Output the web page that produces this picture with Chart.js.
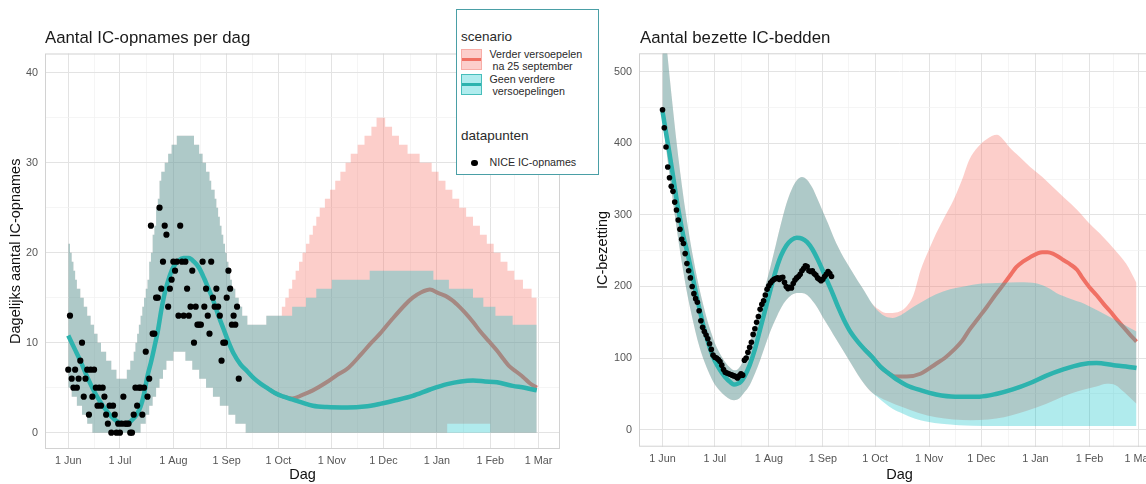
<!DOCTYPE html>
<html><head><meta charset="utf-8">
<script src="https://cdn.jsdelivr.net/npm/chart.js@4.4.1/dist/chart.umd.min.js"></script>
<style>
html,body{margin:0;padding:0;background:#fff;overflow:hidden;width:1146px;height:484px;}
body{position:relative;font-family:'Liberation Sans',Arial,sans-serif;}
#c1{position:absolute;left:0;top:0;}
#c2{position:absolute;left:590px;top:0;}
.title{position:absolute;font-size:16.8px;line-height:16.8px;color:#1a1a1a;white-space:nowrap;}
#legend{position:absolute;left:456px;top:9px;width:143px;height:166px;border:1.5px solid #4a9fa6;background:#fff;box-sizing:border-box;}
#legend div{position:absolute;white-space:pre;color:#2a2a2a;}
.lt{font-size:13.5px;line-height:13.5px;}
.li{font-size:10.7px;line-height:10.7px;}
.key{width:21px;height:21px;box-sizing:border-box;}
.keyline{left:0;right:0;top:9px;height:3px;}
</style>
</head><body>
<canvas id="c1" width="575" height="484"></canvas>
<canvas id="c2" width="605" height="484"></canvas>
<div class="title" style="left:45px;top:30px;">Aantal IC-opnames per dag</div>
<div class="title" style="left:640px;top:29.5px;">Aantal bezette IC-bedden</div>
<div id="legend">
  <div class="lt" style="left:4px;top:19.8px;">scenario</div>
  <div class="key" style="left:4px;top:39px;background:rgb(252,206,203);border:1px solid rgba(240,112,100,0.35);"><div class="keyline" style="top:8px;background:#f07064;"></div></div>
  <div class="key" style="left:4px;top:64px;background:rgb(176,236,238);border:1px solid rgba(45,179,174,0.8);"><div class="keyline" style="top:8px;background:#2db3ae;"></div></div>
  <div class="li" style="left:32.5px;top:38.7px;">Verder versoepelen</div>
  <div class="li" style="left:32.5px;top:51.1px;"> na 25 september</div>
  <div class="li" style="left:32.5px;top:63.7px;">Geen verdere</div>
  <div class="li" style="left:32.5px;top:76.1px;"> versoepelingen</div>
  <div class="lt" style="left:4px;top:118.8px;">datapunten</div>
  <div style="left:14.3px;top:149.5px;width:6.5px;height:6.5px;border-radius:50%;background:#000;"></div>
  <div class="li" style="left:32.5px;top:147.1px;">NICE IC-opnames</div>
</div>
<script>
// ---------- axis ticks (days since 1 June) ----------
const monthDays = [0,30,61,92,122,153,183,214,245,273];
const monthLabels = ['1 Jun','1 Jul','1 Aug','1 Sep','1 Oct','1 Nov','1 Dec','1 Jan','1 Feb','1 Mar'];
const midMonthDays = [15,45.5,76.5,107,137.5,168,198.5,229.5,259];
const opnYTicks = [0,10,20,30,40];
const opnYMinor = [5,15,25,35];
const bezYTicks = [0,100,200,300,400,500];
const bezYMinor = [50,150,250,350,450];

// ---------- left panel: IC-opnames per dag ----------
// NICE datapoints, day 0 = 1 Jun
const opnNICE = [7,13,6,5,7,5,6,8,10,4,6,7,2,7,4,7,5,3,5,3,5,4,2,1,3,0,3,2,0,1,0,1,4,1,1,1,0,0,2,5,3,5,5,2,5,9,4,6,23,11,11,15,15,25,16,19,23,22,14,16,17,19,18,19,13,23,19,13,19,16,13,14,18,10,14,12,12,12,19,14,16,13,11,19,15,14,16,14,13,8,10,10,15,18,16,12,13,12,14,6];
// ribbons as step breakpoints [day, value]
const opnLaagGeen = [[0,5],[2,4],[5,3],[8,2],[11,1],[14,0],[42,1],[45,2],[47,3],[49,4],[51,5],[53,6],[55,7],[57,8],[61,9],[68,8],[72,7],[76,6],[80,5],[84,4],[88,3],[93,2],[97,1],[103,0],[272,0]];
const opnHoogGeen = [[0,21],[1,20],[2,19],[3,18],[4,17],[5,16],[7,15],[9,14],[11,13],[13,12],[15,11],[17,10],[19,9],[22,8],[25,7],[28,6],[34,7],[36,8],[38,9],[39,10],[40,11],[41,12],[42,13],[43,14],[44,15],[45,16],[46,17],[47,19],[48,20],[49,22],[50,23],[51,25],[52,26],[53,28],[54,29],[56,30],[58,31],[60,32],[63,33],[73,32],[76,31],[78,30],[80,29],[82,28],[83,27],[85,26],[86,25],[87,24],[88,23],[89,22],[90,21],[91,20],[92,19],[93,18],[94,17],[95,16],[97,15],[99,14],[101,13],[104,12],[115,13],[130,14],[138,15],[144,16],[153,17],[175,18],[212,17],[221,16],[235,15],[241,14],[248,13],[258,12],[272,12]];
const opnLaagVerder = [[0,5],[2,4],[5,3],[8,2],[11,1],[14,0],[42,1],[45,2],[47,3],[49,4],[51,5],[53,6],[55,7],[57,8],[61,9],[68,8],[72,7],[76,6],[80,5],[84,4],[88,3],[93,2],[97,1],[103,0],[220,1],[245,0],[272,0]];
const opnHoogVerder = [[0,21],[1,20],[2,19],[3,18],[4,17],[5,16],[7,15],[9,14],[11,13],[13,12],[15,11],[17,10],[19,9],[22,8],[25,7],[28,6],[34,7],[36,8],[38,9],[39,10],[40,11],[41,12],[42,13],[43,14],[44,15],[45,16],[46,17],[47,19],[48,20],[49,22],[50,23],[51,25],[52,26],[53,28],[54,29],[56,30],[58,31],[60,32],[63,33],[73,32],[76,31],[78,30],[80,29],[82,28],[83,27],[85,26],[86,25],[87,24],[88,23],[89,22],[90,21],[91,20],[92,19],[93,18],[94,17],[95,16],[97,15],[99,14],[101,13],[104,12],[115,13],[124,14],[126,15],[128,16],[130,17],[132,18],[134,19],[136,20],[138,21],[140,22],[142,23],[144,24],[146,25],[149,26],[152,27],[155,28],[158,29],[161,30],[164,31],[168,32],[172,33],[176,34],[179,35],[184,34],[188,33],[192,32],[197,31],[204,30],[211,29],[215,28],[219,27],[223,26],[227,25],[231,24],[235,23],[239,22],[243,21],[247,20],[251,19],[255,18],[259,17],[264,16],[269,15],[272,15]];
const opnMediaanGeen = [[0,10.8],[4,9.2],[7,8],[11,6.2],[15,4.6],[19,3.3],[22,2.5],[25,1.8],[28,1.3],[31,1.05],[34,1.0],[38,1.6],[40,2.1],[42,2.9],[44,4.3],[46,6.3],[48,7.8],[50,9.5],[52,11.3],[54,13.6],[56,15.5],[58,16.9],[61,18.4],[64,19.1],[67,19.4],[70,19.4],[73,19.0],[76,18.3],[79,17.1],[81,16.2],[84,14.8],[87,13.1],[90,11.6],[93,10.1],[96,8.8],[100,7.6],[104,6.8],[108,6.0],[112,5.4],[116,4.9],[120,4.4],[125,4.0],[130,3.7],[135,3.4],[142,3.0],[150,2.85],[162,2.8],[172,2.9],[181,3.2],[190,3.6],[200,4.1],[210,4.8],[220,5.4],[228,5.7],[235,5.8],[242,5.7],[249,5.6],[258,5.2],[265,5.0],[272,4.7]];
const opnMediaanVerder = [[116,4.9],[120,4.4],[125,4.0],[130,3.8],[136,4.2],[142,4.7],[150,5.6],[156,6.4],[162,7.1],[170,8.7],[176,10.0],[181,11.0],[188,12.6],[196,14.3],[200,15.0],[205,15.6],[210,15.9],[215,15.5],[219,15.2],[223,14.7],[227,14.0],[231,13.2],[235,12.3],[239,11.3],[244,10.2],[249,9.1],[253,8.1],[256,7.4],[260,6.8],[264,6.2],[268,5.5],[272,5.0]];

// ---------- right panel: bezette IC-bedden ----------
const bezNICE = [447,422,395,367,352,340,333,318,307,293,280,266,260,246,232,222,212,200,190,183,178,166,152,143,137,132,127,120,112,104,101,100,98,95,90,84,80,79,78,77,76,75,74,72,75,78,76,97,100,108,115,122,133,141,150,158,168,175,180,188,196,201,205,208,210,211,212,210,212,213,206,200,197,199,198,204,209,212,214,217,222,225,229,228,222,221,222,218,216,212,210,208,210,214,217,221,218,214];
const bezLaagGeen = [[0,435],[2,395],[4,355],[6,318],[8,283],[10,250],[12,220],[14,192],[16,168],[18,146],[20,126],[22,109],[24,95],[26,83],[28,72],[30,63],[33,54],[36,47],[39,42],[41,41],[43,42],[45,46],[47,52],[50,62],[53,78],[56,97],[59,118],[62,138],[65,155],[68,170],[71,181],[74,188],[77,191],[80,191],[83,188],[86,180],[89,170],[92,157],[95,145],[98,133],[101,121],[104,109],[108,93],[112,77],[116,63],[120,52],[124,44],[128,36],[132,29],[138,22],[145,15],[152,11],[160,8],[170,6],[185,5],[272,5]];
const bezHoogGeen = [[0,600],[2,545],[4,495],[6,448],[8,403],[10,362],[12,325],[14,292],[16,262],[18,235],[20,210],[22,188],[24,168],[26,150],[28,135],[30,121],[33,106],[36,94],[39,86],[41,83],[43,84],[45,90],[47,100],[50,120],[53,145],[56,172],[59,200],[62,228],[65,258],[68,288],[71,315],[74,335],[77,348],[80,353],[83,349],[86,338],[89,322],[92,305],[95,288],[98,270],[101,254],[104,240],[108,224],[112,208],[116,193],[120,177],[124,165],[128,158],[132,156],[136,159],[140,165],[145,173],[150,180],[157,189],[165,196],[173,200],[183,204],[192,205],[205,206],[215,204],[222,197],[226,191],[234,183],[242,176],[250,166],[257,157],[264,148],[272,137]];
const bezLaagVerder = [[0,435],[2,395],[4,355],[6,318],[8,283],[10,250],[12,220],[14,192],[16,168],[18,146],[20,126],[22,109],[24,95],[26,83],[28,72],[30,63],[33,54],[36,47],[39,42],[41,41],[43,42],[45,46],[47,52],[50,62],[53,78],[56,97],[59,118],[62,138],[65,155],[68,170],[71,181],[74,188],[77,191],[80,191],[83,188],[86,180],[89,170],[92,157],[95,145],[98,133],[101,121],[104,109],[108,93],[112,77],[116,63],[120,52],[124,46],[130,39],[138,31],[147,23],[157,17],[167,14],[177,13],[187,14],[196,17],[205,23],[215,31],[225,41],[234,50],[242,56],[249,60],[255,64],[260,62],[265,52],[272,36]];
const bezHoogVerder = [[0,600],[2,545],[4,495],[6,448],[8,403],[10,362],[12,325],[14,292],[16,262],[18,235],[20,210],[22,188],[24,168],[26,150],[28,135],[30,121],[33,106],[36,94],[39,86],[41,83],[43,84],[45,90],[47,100],[50,120],[53,145],[56,172],[59,200],[62,228],[65,258],[68,288],[71,315],[74,335],[77,348],[80,353],[83,349],[86,338],[89,322],[92,305],[95,288],[98,270],[101,254],[104,240],[108,224],[112,208],[116,193],[120,177],[124,168],[128,163],[132,163],[136,165],[140,172],[144,188],[148,222],[153,252],[157,274],[162,298],[167,321],[172,350],[176,377],[181,395],[186,406],[192,412],[196,404],[199,395],[205,381],[211,367],[218,353],[224,339],[231,323],[238,307],[245,288],[253,269],[260,250],[266,232],[272,205]];
const bezMediaanGeen = [[0,445],[2,415],[4,386],[6,355],[8,323],[10,295],[12,270],[14,250],[16,228],[18,205],[20,182],[22,160],[24,140],[26,123],[28,108],[30,96],[33,83],[36,73],[39,66],[41,63],[43,64],[45,67],[47,74],[50,90],[53,112],[56,140],[59,168],[62,196],[65,222],[68,243],[71,257],[74,265],[77,268],[80,267],[83,262],[86,252],[89,238],[92,222],[95,205],[98,188],[101,170],[104,154],[108,136],[112,123],[116,112],[120,102],[125,88],[130,78],[135,69],[140,62],[148,55],[157,49],[168,46],[182,46],[192,50],[201,56],[211,65],[220,75],[230,84],[240,91],[249,93],[259,90],[266,88],[272,86]];
const bezMediaanVerder = [[116,112],[120,102],[125,88],[130,78],[134,74],[140,74],[148,78],[157,92],[162,100],[167,111],[172,124],[176,139],[181,155],[186,171],[191,188],[196,204],[200,217],[203,227],[207,235],[211,241],[215,246],[218,248],[221,248],[224,246],[227,242],[230,237],[234,231],[238,223],[241,212],[245,199],[249,188],[253,176],[257,165],[261,153],[266,139],[270,128],[272,123]];

// ---------- styling ----------
const FONT = "'Liberation Sans', Arial, sans-serif";
Chart.defaults.font.family = FONT;
const PINK = 'rgba(248,118,109,0.36)';
const CYAN = 'rgba(0,191,196,0.31)';
const RED = 'rgb(240,112,100)';
const TEAL = '#2db3ae';

const pts = a => a.map(p => ({x: p[0], y: p[1]}));
const daily = a => a.map((v, i) => ({x: i, y: v}));

function boundary(arr, order, stepped) {
  return {data: pts(arr), borderWidth: 0, borderColor: 'rgba(0,0,0,0)', pointRadius: 0, fill: false, order, stepped, cubicInterpolationMode: 'monotone'};
}
function ribbon(arr, color, order, stepped) {
  return {data: pts(arr), borderWidth: 0, borderColor: 'rgba(0,0,0,0)', pointRadius: 0, fill: '-1', backgroundColor: color, order, stepped, cubicInterpolationMode: 'monotone'};
}
function line(arr, color, width, order) {
  return {data: pts(arr), borderColor: color, borderWidth: width, pointRadius: 0, fill: false, order, cubicInterpolationMode: 'monotone', borderCapStyle: 'butt', borderJoinStyle: 'round'};
}
function dots(vals, r) {
  return {data: daily(vals), showLine: false, pointRadius: r, pointBackgroundColor: '#000', pointBorderWidth: 0, borderColor: '#000', order: 0};
}

const isMonth = v => monthDays.includes(v);
function xScale(h) {
  return {
    type: 'linear', min: -13.5, max: 285.5,
    afterBuildTicks: s => { s.ticks = monthDays.concat(midMonthDays).sort((a, b) => a - b).map(v => ({value: v})); },
    afterFit: s => { s.height = h; },
    ticks: {autoSkip: false, maxRotation: 0, minRotation: 0, padding: 6, color: '#555', font: {size: 10.8},
      callback: v => { const i = monthDays.indexOf(v); return i >= 0 ? monthLabels[i] : ''; }},
    grid: {drawTicks: false, color: c => isMonth(c.tick.value) ? '#e3e3e3' : '#f1f1f1', lineWidth: c => isMonth(c.tick.value) ? 1 : 0.7},
    border: {display: false},
    title: {display: true, text: 'Dag', color: '#111', font: {size: 14.5}, padding: {top: 0, bottom: 0}}
  };
}
function yScale(min, max, major, minor, w, title, tpad) {
  const all = major.concat(minor).sort((a, b) => a - b);
  return {
    min, max,
    afterBuildTicks: s => { s.ticks = all.map(v => ({value: v})); },
    afterFit: s => { s.width = w; },
    ticks: {autoSkip: false, padding: 7, color: '#555', font: {size: 10.8},
      callback: v => major.includes(v) ? String(v) : ''},
    grid: {drawTicks: false, color: c => major.includes(c.tick.value) ? '#e3e3e3' : '#f1f1f1', lineWidth: c => major.includes(c.tick.value) ? 1 : 0.7},
    border: {display: false},
    title: {display: true, text: title, color: '#111', font: {size: 14.5}, padding: {top: tpad, bottom: 0}}
  };
}
const panelBorder = {
  id: 'panelBorder',
  beforeDatasetsDraw(chart) {
    const a = chart.chartArea, ctx = chart.ctx;
    ctx.save(); ctx.strokeStyle = '#d2d2d2'; ctx.lineWidth = 1;
    ctx.strokeRect(a.left + 0.5, a.top + 0.5, a.right - a.left - 1, a.bottom - a.top - 1);
    ctx.restore();
  }
};
const baseOpts = {
  responsive: false, animation: false, devicePixelRatio: 1, events: [],
  plugins: {legend: {display: false}, tooltip: {enabled: false}, title: {display: false}}
};

new Chart(document.getElementById('c1'), {
  type: 'line',
  data: {datasets: [
    boundary(opnLaagVerder, 6, true),
    ribbon(opnHoogVerder, PINK, 5, true),
    line(opnMediaanVerder, RED, 4, 4),
    boundary(opnLaagGeen, 3, true),
    ribbon(opnHoogGeen, CYAN, 2, true),
    line(opnMediaanGeen, TEAL, 4.5, 1),
    dots(opnNICE, 3.1)
  ]},
  options: Object.assign({}, baseOpts, {
    layout: {padding: {top: 53.5, right: 15, bottom: 0, left: 0}},
    scales: {
      x: xScale(35),
      y: yScale(-1.81, 42.13, opnYTicks, opnYMinor, 45, 'Dagelijks aantal IC-opnames', 7)
    }
  }),
  plugins: [panelBorder]
});

new Chart(document.getElementById('c2'), {
  type: 'line',
  data: {datasets: [
    boundary(bezLaagVerder, 6, false),
    ribbon(bezHoogVerder, PINK, 5, false),
    line(bezMediaanVerder, RED, 4, 4),
    boundary(bezLaagGeen, 3, false),
    ribbon(bezHoogGeen, CYAN, 2, false),
    line(bezMediaanGeen, TEAL, 4.5, 1),
    dots(bezNICE, 2.8)
  ]},
  options: Object.assign({}, baseOpts, {
    layout: {padding: {top: 53.3, right: 35, bottom: 0, left: 0}},
    scales: {
      x: xScale(37.3),
      y: yScale(-24, 526, bezYTicks, bezYMinor, 49, 'IC-bezetting', 4.6)
    }
  }),
  plugins: [panelBorder]
});
</script>
</body></html>
